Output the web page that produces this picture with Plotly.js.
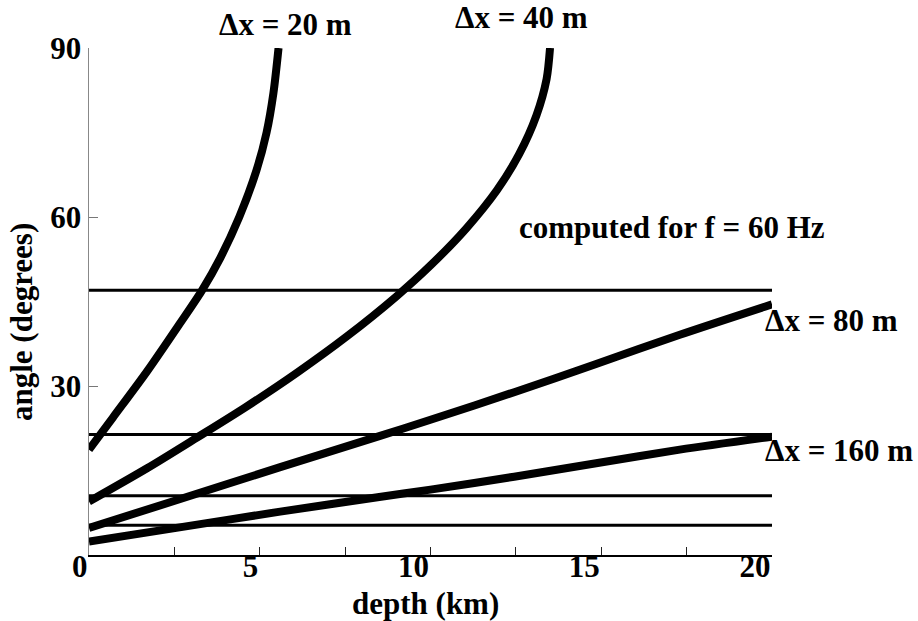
<!DOCTYPE html>
<html>
<head>
<meta charset="utf-8">
<script src="https://cdn.plot.ly/plotly-3.0.1.min.js"></script>
<style>
  html, body { margin: 0; padding: 0; background: #fff; }
  #chart { width: 918px; height: 621px; }
</style>
</head>
<body>
<div id="chart"></div>
<script>
// Maximum unaliased dip angle versus depth, for several trace spacings
const depth20  = [0, 0.7, 1.7, 2.65, 3.3, 3.85, 4.4, 4.9, 5.2, 5.4, 5.55];
const angle20  = [18.7, 24.4, 32.6, 41.0, 46.9, 52.8, 60.0, 68.2, 75.0, 82.0, 90];

const depth40  = [0, 1.7, 3.15, 4.6, 6.1, 7.55, 9.0, 10.0, 11.05, 11.95, 12.6, 13.1, 13.4, 13.5];
const angle40  = [9.5, 15.4, 20.8, 26.3, 32.4, 38.8, 45.9, 51.4, 58.0, 64.8, 71.2, 78.0, 84.5, 90];

const depth80  = [0, 2.65, 5.6, 8.5, 10.0, 12.45, 14.85, 17.3, 20];
const angle80  = [4.8, 9.9, 15.6, 21.1, 24.0, 28.9, 33.9, 39.1, 44.5];

const depth160 = [0, 2.65, 5.6, 8.5, 10.0, 12.45, 14.85, 17.3, 20];
const angle160 = [2.4, 4.9, 7.7, 10.3, 11.6, 13.9, 16.3, 18.7, 21.0];

// constant-velocity limits for the same spacings
const constAngles = [47.0, 21.4, 10.5, 5.3];
const depthRange  = [0, 20];

const xTicks = [0, 5, 10, 15, 20];
const xMinorTicks = [2.5, 7.5, 12.5, 17.5];
const yTicks = [30, 60, 90];

const FONT = 'Liberation Serif, Times New Roman, serif';
const fontSize = 31;

const traces = [];
constAngles.forEach(a => {
  traces.push({
    x: depthRange, y: [a, a], mode: 'lines',
    line: { color: '#000', width: 3 }, hoverinfo: 'skip'
  });
});
[[depth20, angle20], [depth40, angle40], [depth80, angle80], [depth160, angle160]].forEach(([x, y]) => {
  traces.push({
    x: x, y: y, mode: 'lines',
    line: { color: '#000', width: 8, shape: 'spline', smoothing: 0.8 },
    hoverinfo: 'skip'
  });
});

function label(text, px, py, anchor) {
  return {
    text: '<b>' + text + '</b>', xref: 'paper', yref: 'paper',
    x: px, y: py, xanchor: anchor || 'left', yanchor: 'middle',
    showarrow: false, font: { family: FONT, size: fontSize, color: '#000' }
  };
}

const layout = {
  width: 918, height: 621,
  margin: { l: 89, r: 146, t: 48, b: 66 },
  paper_bgcolor: '#fff', plot_bgcolor: '#fff',
  showlegend: false,
  font: { family: FONT, size: fontSize, color: '#000' },
  xaxis: {
    range: [0, 20], tickvals: xTicks, ticktext: xTicks.map(v => '<b>' + v + '</b>'),
    ticks: 'inside', ticklen: 8, tickwidth: 1, tickcolor: '#222',
    ticklabelposition: 'outside left', ticklabelstandoff: -17,
    minor: { tickvals: xMinorTicks, ticks: 'inside', ticklen: 8, tickwidth: 1, tickcolor: '#222' },
    showline: true, linecolor: '#000', linewidth: 2,
    showgrid: false, zeroline: false,
    tickfont: { family: FONT, size: fontSize, color: '#000' }
  },
  yaxis: {
    range: [0, 90], tickvals: yTicks, ticktext: yTicks.map(v => '<b>' + v + '</b>'),
    ticks: 'inside', ticklen: 9, tickwidth: 1, tickcolor: '#777',
    showline: true, linecolor: '#888', linewidth: 1.5,
    showgrid: false, zeroline: false,
    tickfont: { family: FONT, size: fontSize, color: '#000' }
  },
  annotations: [
    label('\u0394x = 20 m', 0.1874, 1.046),
    label('\u0394x = 40 m', 0.533, 1.06),
    label('computed for f = 60 Hz', 0.6267, 0.645),
    label('\u0394x = 80 m', 0.9868, 0.4635),
    label('\u0394x = 160 m', 0.9868, 0.207),
    label('depth (km)', 0.492, -0.095, 'center'),
    Object.assign(label('angle (degrees)', -0.098, 0.4596, 'center'), { textangle: -90 })
  ]
};

Plotly.newPlot('chart', traces, layout, { staticPlot: true, displayModeBar: false });
</script>
</body>
</html>
